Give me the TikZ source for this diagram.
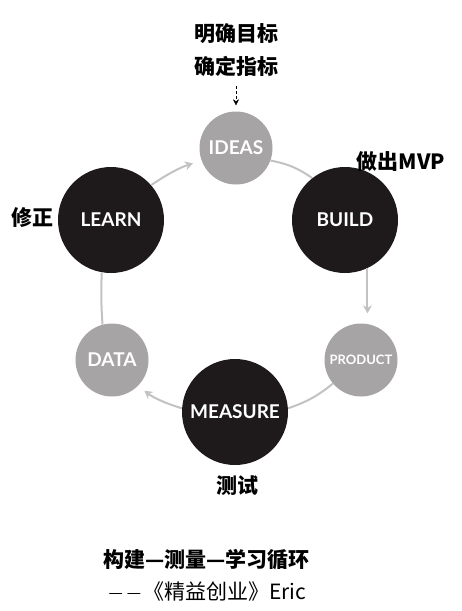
\documentclass[tikz,border=0pt]{standalone}
\usepackage{fontspec}
\newfontfamily\cjkfont{Noto Sans CJK SC}
\newfontfamily\stagefont{Lato}
\usetikzlibrary{arrows.meta}

\definecolor{stagedark}{HTML}{1E1A1B}
\definecolor{stagelight}{HTML}{A6A4A4}
\definecolor{linkgray}{HTML}{C2C2C2}

\tikzset{
  darkstage/.style={circle, fill=stagedark, text=white, inner sep=0pt,
    minimum size=106pt, font=\stagefont\bfseries\fontsize{19}{19}\selectfont},
  lightstage/.style={circle, fill=stagelight, text=white, inner sep=0pt,
    minimum size=73pt, font=\stagefont\bfseries\fontsize{19}{19}\selectfont},
  link/.style={draw=linkgray, line width=2pt},
  note/.style={font=\cjkfont\bfseries\fontsize{21}{33}\selectfont, align=center}
}

\begin{document}
\begin{tikzpicture}[x=1pt, y=-1pt, >={Stealth[length=8pt,width=9pt]}]
  \useasboundingbox (0,0) rectangle (462,611);

  % the six stages of the loop
  \node[lightstage] (ideas) at (236,148) {IDEAS};
  \node[darkstage] (build) at (345,220) {BUILD};
  \node[lightstage, font=\stagefont\bfseries\fontsize{13}{13}\selectfont]
       (product) at (361,360) {PRODUCT};
  \node[darkstage] (measure) at (235,412) {MEASURE};
  \node[lightstage] (data) at (112,360) {DATA};
  \node[darkstage] (learn) at (111,220) {LEARN};

  % grey links round the loop
  \draw[link, ->, shorten >=9pt] (learn.41) to[bend left=8] (ideas.200);
  \draw[link] (ideas.-20) to[bend left=12] (build.128);
  \draw[link, ->, shorten >=10pt] (build.-65) -- (build.-65 |- product.north);
  \draw[link] (product.-140) to[bend left=10] (measure.4);
  \draw[link, ->, shorten >=8pt] (measure.176) to[bend left=10] (data.-45);
  \draw[link] (data.105) to[bend left=3] (learn.-100);

  % notes
  \node[note] (goal) at (236,50) {明确目标\\确定指标};
  \draw[->, >={Stealth[length=6pt,width=6pt]}, dashed, dash pattern=on 3pt off 2pt,
        shorten <=6pt, shorten >=6pt] (goal.south) -- (ideas.north);
  \node[note] (mvp) at (401,162) {做出MVP};
  \node[note] (fix) at (33,218) {修正};
  \node[note] (test) at (237,486) {测试};

  % caption
  \node[note, anchor=west] (title) at (100,560) {构建—测量—学习循环};
  \node[note, anchor=west, font=\cjkfont\fontsize{21}{21}\selectfont]
       (source) at (105,592) {{\fontsize{16}{16}\selectfont\raisebox{1.5pt}{—}\kern4pt\raisebox{1.5pt}{—}}\kern2pt《精益创业》Eric};
\end{tikzpicture}
\end{document}
